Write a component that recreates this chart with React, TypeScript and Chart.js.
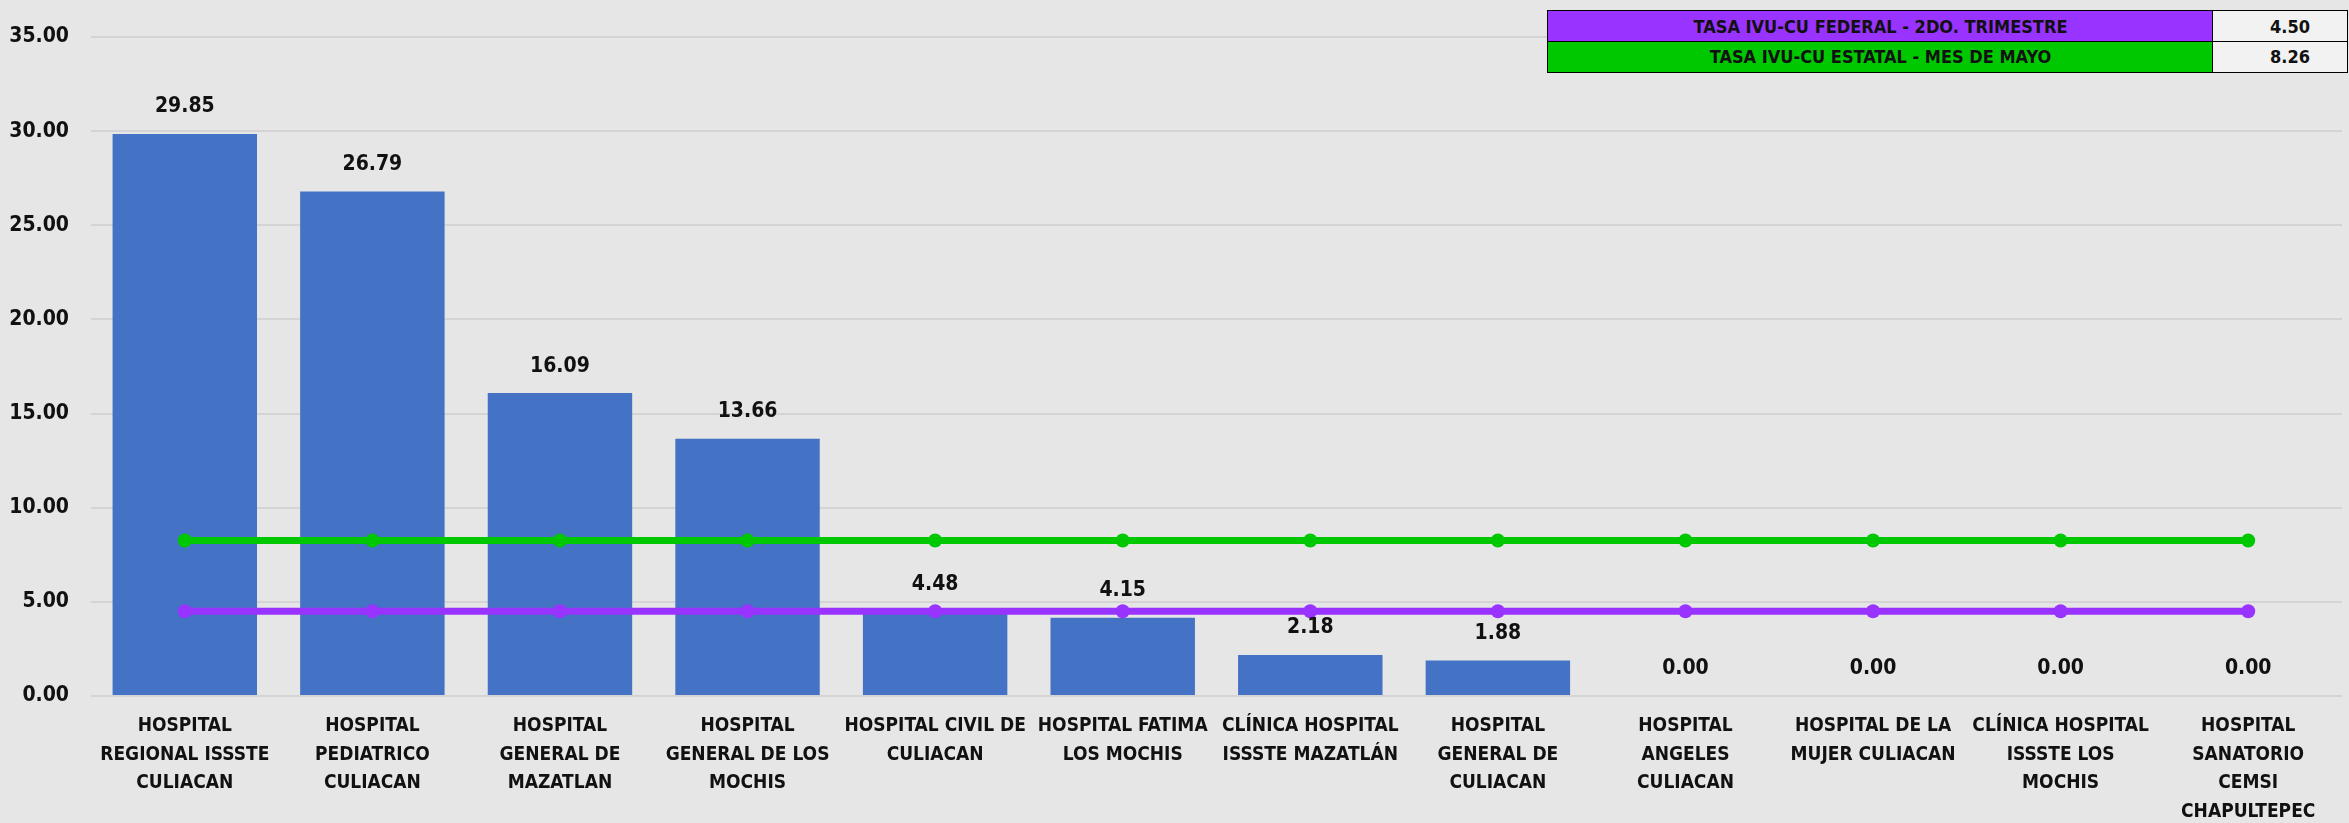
import React, { useEffect, useRef } from "react";
import { Chart, registerables } from "chart.js";

Chart.register(...registerables);

const categories: string[][] = [
  ["HOSPITAL", "REGIONAL ISSSTE", "CULIACAN"],
  ["HOSPITAL", "PEDIATRICO", "CULIACAN"],
  ["HOSPITAL", "GENERAL DE", "MAZATLAN"],
  ["HOSPITAL", "GENERAL DE LOS", "MOCHIS"],
  ["HOSPITAL CIVIL DE", "CULIACAN"],
  ["HOSPITAL FATIMA", "LOS MOCHIS"],
  ["CLÍNICA HOSPITAL", "ISSSTE MAZATLÁN"],
  ["HOSPITAL", "GENERAL DE", "CULIACAN"],
  ["HOSPITAL", "ANGELES", "CULIACAN"],
  ["HOSPITAL DE LA", "MUJER CULIACAN"],
  ["CLÍNICA HOSPITAL", "ISSSTE LOS", "MOCHIS"],
  ["HOSPITAL", "SANATORIO", "CEMSI", "CHAPULTEPEC"],
];

const tasaHospital: number[] = [29.85, 26.79, 16.09, 13.66, 4.48, 4.15, 2.18, 1.88, 0.0, 0.0, 0.0, 0.0];
const tasaFederal: number[] = [4.5, 4.5, 4.5, 4.5, 4.5, 4.5, 4.5, 4.5, 4.5, 4.5, 4.5, 4.5];
const tasaEstatal: number[] = [8.26, 8.26, 8.26, 8.26, 8.26, 8.26, 8.26, 8.26, 8.26, 8.26, 8.26, 8.26];

const legendLabels: string[] = ["TASA IVU-CU FEDERAL -  2DO. TRIMESTRE", "TASA IVU-CU ESTATAL - MES DE MAYO"];
const legendValues: number[] = [4.5, 8.26];

const FONT = "'Liberation Sans Narrow', 'DejaVu Sans Condensed', 'Arial Narrow', sans-serif";
const BG = "#E6E6E6";
const PURPLE = "#9933FF";
const GREEN = "#00C800";
const BLUE = "#4472C4";

export default function App() {
  const ref = useRef<HTMLCanvasElement | null>(null);

  useEffect(() => {
    if (!ref.current) return;
    const bgPlugin = {
      id: "bg",
      beforeDraw(chart: any) {
        const ctx = chart.ctx;
        ctx.save();
        ctx.fillStyle = BG;
        ctx.fillRect(0, 0, chart.width, chart.height);
        ctx.restore();
      },
    };
    const labelPlugin = {
      id: "barLabels",
      afterDraw(chart: any) {
        const ctx = chart.ctx;
        const meta = chart.getDatasetMeta(2);
        ctx.save();
        ctx.font = `bold 21px ${FONT}`;
        ctx.fillStyle = "#111111";
        ctx.textAlign = "center";
        ctx.textBaseline = "middle";
        meta.data.forEach((el: any, i: number) => {
          ctx.fillText(tasaHospital[i].toFixed(2), el.x, el.y - 27);
        });
        ctx.restore();
      },
    };
    const chart = new Chart(ref.current, {
      type: "bar",
      data: {
        labels: categories as any,
        datasets: [
          {
            type: "line" as const,
            label: legendLabels[1],
            data: tasaEstatal,
            borderColor: GREEN,
            backgroundColor: GREEN,
            borderWidth: 7,
            pointRadius: 7,
            pointBorderWidth: 0,
            pointBackgroundColor: GREEN,
            order: 1,
          },
          {
            type: "line" as const,
            label: legendLabels[0],
            data: tasaFederal,
            borderColor: PURPLE,
            backgroundColor: PURPLE,
            borderWidth: 7,
            pointRadius: 7,
            pointBorderWidth: 0,
            pointBackgroundColor: PURPLE,
            order: 2,
          },
          {
            type: "bar" as const,
            label: "TASA",
            data: tasaHospital,
            backgroundColor: BLUE,
            categoryPercentage: 1,
            barPercentage: 0.77,
            order: 3,
          },
        ] as any,
      },
      options: {
        animation: false,
        responsive: false,
        devicePixelRatio: 1,
        layout: { padding: { top: 37, left: 0, right: -8, bottom: 0 } },
        plugins: { legend: { display: false }, tooltip: { enabled: false } },
        scales: {
          x: {
            grid: { display: false, drawTicks: false },
            border: { display: false },
            ticks: {
              autoSkip: false,
              maxRotation: 0,
              minRotation: 0,
              color: "#111111",
              padding: 16,
              font: { family: FONT, size: 19, weight: "bold", lineHeight: 1.5 },
            },
            afterFit(scale: any) {
              scale.height = 127;
            },
          },
          y: {
            min: 0,
            max: 35,
            ticks: {
              stepSize: 5,
              color: "#111111",
              padding: 22,
              font: { family: FONT, size: 21, weight: "bold" },
              callback: (v: any) => Number(v).toFixed(2),
            },
            grid: { color: "#D4D4D4", lineWidth: 2, drawTicks: false },
            border: { display: false },
            afterFit(scale: any) {
              scale.width = 91;
            },
          },
        },
      } as any,
      plugins: [bgPlugin, labelPlugin],
    });
    return () => chart.destroy();
  }, []);

  const cellBase: React.CSSProperties = {
    position: "absolute",
    boxSizing: "border-box",
    border: "1.5px solid #000",
    display: "flex",
    alignItems: "center",
    justifyContent: "center",
    fontFamily: FONT,
    fontWeight: "bold",
    fontSize: 18,
    color: "#111",
  };

  return (
    <div style={{ position: "absolute", left: 0, top: 0, width: 2349, height: 823, background: BG, overflow: "hidden" }}>
      <canvas ref={ref} width={2349} height={823} style={{ display: "block" }} />
      {legendLabels.map((lab, i) => (
        <React.Fragment key={lab}>
          <div
            style={{
              ...cellBase,
              left: 1547,
              top: 10 + i * 30.5,
              width: 667,
              height: 32,
              background: i === 0 ? PURPLE : GREEN,
            }}
          >
            {lab}
          </div>
          <div
            style={{
              ...cellBase,
              left: 2212,
              top: 10 + i * 30.5,
              width: 136,
              height: 32,
              background: "#F2F2F2",
              paddingLeft: 20,
            }}
          >
            {legendValues[i].toFixed(2)}
          </div>
        </React.Fragment>
      ))}
    </div>
  );
}
